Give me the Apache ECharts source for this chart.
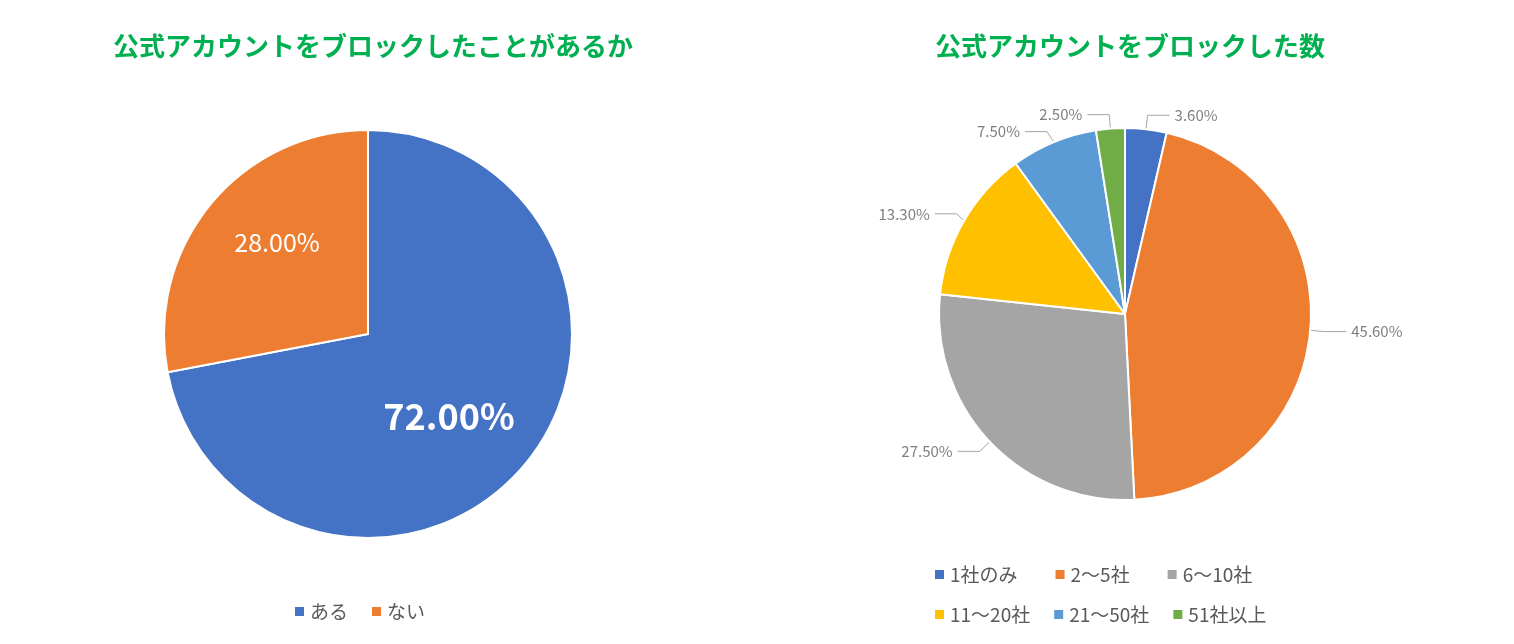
<!DOCTYPE html>
<html><head><meta charset="utf-8">
<script src="https://cdn.jsdelivr.net/npm/echarts@6/dist/echarts.min.js"></script>
<style>html,body{margin:0;background:#fff}#c{width:1514px;height:644px}</style>
</head><body><div id="c"></div>
<script>
const leftTitle='公式アカウントをブロックしたことがあるか';
const rightTitle='公式アカウントをブロックした数';
const leftNames=['ある','ない'];
const leftValues=[72.0,28.0];
const rightNames=['1社のみ','2〜5社','6〜10社','11〜20社','21〜50社','51社以上'];
const rightValues=[3.6,45.6,27.5,13.3,7.5,2.5];
const colorsL=['#4472C4','#ED7D31'];
const colorsR=['#4472C4','#ED7D31','#A5A5A5','#FFC000','#5B9BD5','#70AD47'];
const font='"Noto Sans CJK JP","Noto Sans",sans-serif';
const ch=echarts.init(document.getElementById('c'));
const tstyle={color:'#00B050',fontSize:26,fontWeight:'bold',fontFamily:font};
const lt={fontSize:19,color:'#595959',fontFamily:font};
ch.setOption({
 animation:false,
 title:[{text:leftTitle,left:368,top:28,textAlign:'center',textStyle:tstyle},
        {text:rightTitle,left:1125,top:28,textAlign:'center',textStyle:tstyle}],
 legend:[
  {data:leftNames,left:288,top:597,itemWidth:11,itemHeight:11,itemGap:22,icon:'rect',textStyle:lt},
  {data:rightNames.slice(0,3),left:928,top:560,itemWidth:11,itemHeight:11,itemGap:36,icon:'rect',textStyle:lt},
  {data:rightNames.slice(3),left:928,top:600,itemWidth:11,itemHeight:11,itemGap:22,icon:'rect',textStyle:lt}],
 series:[
  {type:'pie',center:[368,334],radius:204,startAngle:90,clockwise:true,
   itemStyle:{borderColor:'#fff',borderWidth:2},
   label:{position:'inside',color:'#fff',fontFamily:font,formatter:p=>p.value.toFixed(2)+'%'},
   data:leftNames.map((n,i)=>({name:n,value:leftValues[i],itemStyle:{color:colorsL[i]},
     label:i===0?{fontSize:36,fontWeight:'bold',offset:[0,15]}:{fontSize:25,offset:[-10,-25]}}))},
  {type:'pie',center:[1125,314],radius:186,startAngle:90,clockwise:true,
   itemStyle:{borderColor:'#fff',borderWidth:2},
   label:{color:'#7F7F7F',fontSize:15,fontFamily:font,formatter:p=>p.value.toFixed(2)+'%'},
   labelLine:{length:14,length2:22,lineStyle:{color:'#A6A6A6'}},
   data:rightNames.map((n,i)=>({name:n,value:rightValues[i],itemStyle:{color:colorsR[i]}}))}
 ]
});
</script></body></html>
